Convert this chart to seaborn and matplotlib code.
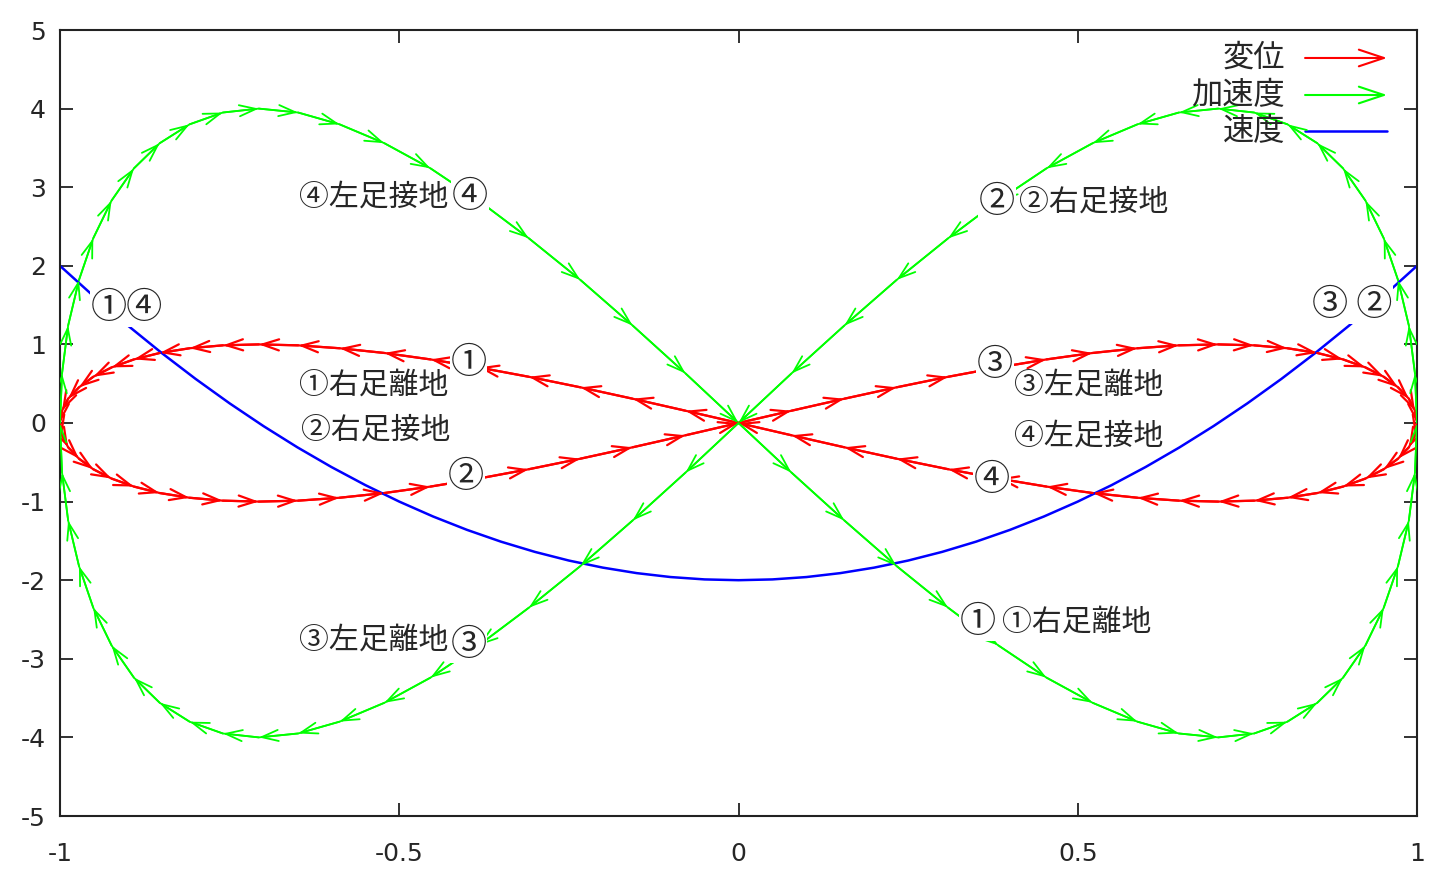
import matplotlib
matplotlib.use("Agg")
import matplotlib.pyplot as plt
import seaborn as sns

# ---------------------------------------------------------------------------
# Data read off the chart (sampled every 1/80 of a cycle)
# ---------------------------------------------------------------------------
# 変位 (displacement) - red
disp_x = [
    0.0, 0.078, 0.156, 0.233, 0.309, 0.383, 0.454, 0.522, 0.588, 0.649,
    0.707, 0.760, 0.809, 0.853, 0.891, 0.924, 0.951, 0.972, 0.988, 0.997,
    1.0, 0.997, 0.988, 0.972, 0.951, 0.924, 0.891, 0.853, 0.809, 0.760,
    0.707, 0.649, 0.588, 0.522, 0.454, 0.383, 0.309, 0.233, 0.156, 0.078,
    0.0, -0.078, -0.156, -0.233, -0.309, -0.383, -0.454, -0.522, -0.588, -0.649,
    -0.707, -0.760, -0.809, -0.853, -0.891, -0.924, -0.951, -0.972, -0.988, -0.997,
    -1.0, -0.997, -0.988, -0.972, -0.951, -0.924, -0.891, -0.853, -0.809, -0.760,
    -0.707, -0.649, -0.588, -0.522, -0.454, -0.383, -0.309, -0.233, -0.156, -0.078,
    0.0,
]
disp_y = [
    0.0, 0.156, 0.309, 0.454, 0.588, 0.707, 0.809, 0.891, 0.951, 0.988,
    1.0, 0.988, 0.951, 0.891, 0.809, 0.707, 0.588, 0.454, 0.309, 0.156,
    0.0, -0.156, -0.309, -0.454, -0.588, -0.707, -0.809, -0.891, -0.951, -0.988,
    -1.0, -0.988, -0.951, -0.891, -0.809, -0.707, -0.588, -0.454, -0.309, -0.156,
    0.0, 0.156, 0.309, 0.454, 0.588, 0.707, 0.809, 0.891, 0.951, 0.988,
    1.0, 0.988, 0.951, 0.891, 0.809, 0.707, 0.588, 0.454, 0.309, 0.156,
    0.0, -0.156, -0.309, -0.454, -0.588, -0.707, -0.809, -0.891, -0.951, -0.988,
    -1.0, -0.988, -0.951, -0.891, -0.809, -0.707, -0.588, -0.454, -0.309, -0.156,
    0.0,
]

# 加速度 (acceleration) - green
acc_x = [
    0.0, -0.078, -0.156, -0.233, -0.309, -0.383, -0.454, -0.522, -0.588, -0.649,
    -0.707, -0.760, -0.809, -0.853, -0.891, -0.924, -0.951, -0.972, -0.988, -0.997,
    -1.0, -0.997, -0.988, -0.972, -0.951, -0.924, -0.891, -0.853, -0.809, -0.760,
    -0.707, -0.649, -0.588, -0.522, -0.454, -0.383, -0.309, -0.233, -0.156, -0.078,
    0.0, 0.078, 0.156, 0.233, 0.309, 0.383, 0.454, 0.522, 0.588, 0.649,
    0.707, 0.760, 0.809, 0.853, 0.891, 0.924, 0.951, 0.972, 0.988, 0.997,
    1.0, 0.997, 0.988, 0.972, 0.951, 0.924, 0.891, 0.853, 0.809, 0.760,
    0.707, 0.649, 0.588, 0.522, 0.454, 0.383, 0.309, 0.233, 0.156, 0.078,
    0.0,
]
acc_y = [
    0.0, -0.63, -1.24, -1.82, -2.35, -2.83, -3.24, -3.56, -3.80, -3.95,
    -4.0, -3.95, -3.80, -3.56, -3.24, -2.83, -2.35, -1.82, -1.24, -0.63,
    0.0, 0.63, 1.24, 1.82, 2.35, 2.83, 3.24, 3.56, 3.80, 3.95,
    4.0, 3.95, 3.80, 3.56, 3.24, 2.83, 2.35, 1.82, 1.24, 0.63,
    0.0, -0.63, -1.24, -1.82, -2.35, -2.83, -3.24, -3.56, -3.80, -3.95,
    -4.0, -3.95, -3.80, -3.56, -3.24, -2.83, -2.35, -1.82, -1.24, -0.63,
    0.0, 0.63, 1.24, 1.82, 2.35, 2.83, 3.24, 3.56, 3.80, 3.95,
    4.0, 3.95, 3.80, 3.56, 3.24, 2.83, 2.35, 1.82, 1.24, 0.63,
    0.0,
]

# 速度 (velocity) - blue
vel_x = [
    -1.0, -0.95, -0.9, -0.85, -0.8, -0.75, -0.7, -0.65, -0.6, -0.55,
    -0.5, -0.45, -0.4, -0.35, -0.3, -0.25, -0.2, -0.15, -0.1, -0.05,
    0.0, 0.05, 0.1, 0.15, 0.2, 0.25, 0.3, 0.35, 0.4, 0.45,
    0.5, 0.55, 0.6, 0.65, 0.7, 0.75, 0.8, 0.85, 0.9, 0.95,
    1.0,
]
vel_y = [
    2.0, 1.61, 1.24, 0.89, 0.56, 0.25, -0.04, -0.31, -0.56, -0.79,
    -1.0, -1.19, -1.36, -1.51, -1.64, -1.75, -1.84, -1.91, -1.96, -1.99,
    -2.0, -1.99, -1.96, -1.91, -1.84, -1.75, -1.64, -1.51, -1.36, -1.19,
    -1.0, -0.79, -0.56, -0.31, -0.04, 0.25, 0.56, 0.89, 1.24, 1.61,
    2.0,
]

# circled phase markers placed on the curves
marker_text = ["④", "②", "①④", "③ ②", "①", "②", "③", "④", "③", "①"]
marker_x = [-0.396, 0.381, -0.901, 0.904, -0.398, -0.402, 0.378, 0.374, -0.398, 0.352]
marker_y = [2.875, 2.81, 1.46, 1.50, 0.76, -0.69, 0.74, -0.73, -2.82, -2.53]

# captions
caption_text = ["④左足接地", "②右足接地", "①右足離地", "②右足接地",
                "③左足離地", "④左足接地", "③左足離地", "①右足離地"]
caption_x = [-0.537, 0.524, -0.538, -0.534, 0.516, 0.516, -0.538, 0.499]
caption_y = [2.875, 2.81, 0.483, -0.089, 0.483, -0.165, -2.76, -2.53]

legend_labels = ["変位", "加速度", "速度"]

x_ticks = [-1, -0.5, 0, 0.5, 1]
x_tick_labels = ["-1", "-0.5", "0", "0.5", "1"]
y_ticks = [5, 4, 3, 2, 1, 0, -1, -2, -3, -4, -5]
y_tick_labels = ["5", "4", "3", "2", "1", "0", "-1", "-2", "-3", "-4", "-5"]

# ---------------------------------------------------------------------------
# Plot
# ---------------------------------------------------------------------------
sns.set_style("ticks")
plt.rcParams["font.family"] = ["Noto Sans CJK JP", "DejaVu Sans"]

RED, GREEN, BLUE = "#ff0000", "#00ff00", "#0000ff"

fig = plt.figure(figsize=(14.48, 8.86), dpi=100)
ax = fig.add_axes([60 / 1448, 70 / 886, 1357 / 1448, 786 / 886])


def draw_vectors(xs, ys, color, lw):
    sns.lineplot(x=xs, y=ys, sort=False, estimator=None, color=color, lw=lw, ax=ax)
    for x0, y0, x1, y1 in zip(xs[:-1], ys[:-1], xs[1:], ys[1:]):
        ann = ax.annotate(
            "", xy=(x1, y1), xytext=(x0, y0),
            arrowprops=dict(arrowstyle="->,head_length=0.6,head_width=0.2",
                            color=color, lw=lw, shrinkA=0, shrinkB=0,
                            mutation_scale=20),
        )
        ann.arrow_patch.set_clip_box(ax.bbox)
        ann.arrow_patch.set_clip_on(True)


draw_vectors(disp_x, disp_y, RED, 1.6)
draw_vectors(acc_x, acc_y, GREEN, 1.3)
sns.lineplot(x=vel_x, y=vel_y, color=BLUE, lw=1.8, ax=ax)

for t, x, y in zip(marker_text, marker_x, marker_y):
    ax.text(x, y, t, ha="center", va="center", fontsize=26, zorder=10,
            bbox=dict(facecolor="white", edgecolor="none", pad=0.5))

for t, x, y in zip(caption_text, caption_x, caption_y):
    ax.text(x, y, t, ha="center", va="center", fontsize=21.5, zorder=10)

# gnuplot-style key, top right
legend_colors = [RED, GREEN, BLUE]
legend_rows = [0.9644, 0.9173, 0.8715]
for label, color, yy in zip(legend_labels, legend_colors, legend_rows):
    ax.text(0.9027, yy, label, transform=ax.transAxes, ha="right", va="center",
            fontsize=22.5)
    if color == BLUE:
        ax.plot([0.9175, 0.978], [yy, yy], color=color, lw=1.8, transform=ax.transAxes)
    else:
        ax.annotate("", xy=(0.978, yy), xytext=(0.9175, yy), xycoords="axes fraction",
                    arrowprops=dict(arrowstyle="->,head_length=0.9,head_width=0.3",
                                    color=color, lw=1.5, shrinkA=0, shrinkB=0,
                                    mutation_scale=20))

ax.set_xlim(-1, 1)
ax.set_ylim(-5, 5)
ax.set_xticks(x_ticks)
ax.set_xticklabels(x_tick_labels, fontfamily="DejaVu Sans", fontsize=18)
ax.set_yticks(y_ticks)
ax.set_yticklabels(y_tick_labels, fontfamily="DejaVu Sans", fontsize=18)
ax.tick_params(axis="both", direction="in", top=True, right=True,
               length=9.5, width=1.3, color="#222222")
ax.tick_params(axis="x", pad=19)
ax.tick_params(axis="y", pad=10)
ax.set_xlabel("")
ax.set_ylabel("")
for side in ["top", "bottom", "left", "right"]:
    ax.spines[side].set_visible(True)
    ax.spines[side].set_linewidth(1.5)
    ax.spines[side].set_color("#222222")

fig.savefig("out.png", dpi=100)
